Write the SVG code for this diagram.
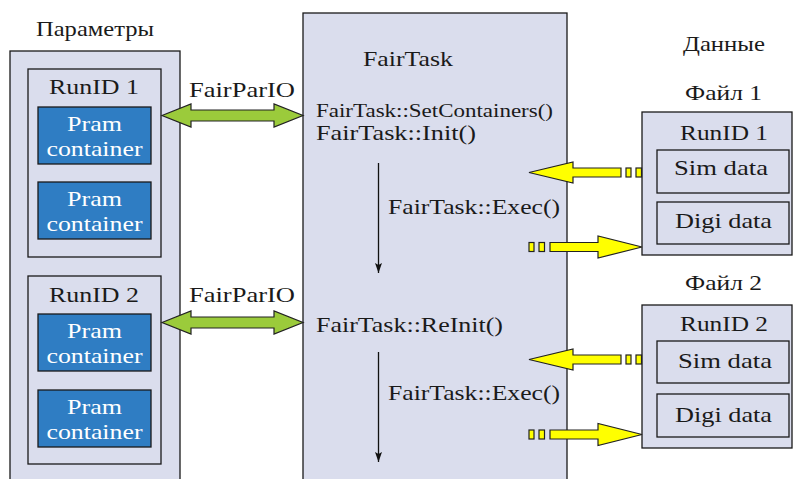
<svg xmlns="http://www.w3.org/2000/svg" width="793" height="479" viewBox="0 0 793 479" font-family="'Liberation Serif', 'Times New Roman', Times, 'DejaVu Serif', serif">
<style>
text{font-family:'Liberation Serif','Times New Roman',Times,'DejaVu Serif',serif;font-size:22px;fill:#1a1a1a}
.w{fill:#ffffff}
.box{fill:#dadded;stroke:#1a1a1a;stroke-width:1.3}
.pram{fill:#2f7dc3;stroke:#1a1a1a;stroke-width:1.3}
.green{fill:#9bcb3b;stroke:#222;stroke-width:1.2}
.yel{fill:#ffff00;stroke:#222;stroke-width:1.2}
.flow{stroke:#111;stroke-width:1.3;fill:none}
</style>
<defs>
<marker id="ah" viewBox="0 0 10 10" refX="10" refY="5" markerWidth="10" markerHeight="10" markerUnits="userSpaceOnUse" orient="auto">
<path d="M0,1.5 L10,5 L0,8.5 L2,5 Z" fill="#111"/>
</marker>
</defs>
<rect width="793" height="479" fill="#fff"/>

<g id="params">
<text x="95" y="36" text-anchor="middle" textLength="118" lengthAdjust="spacingAndGlyphs">Параметры</text>
<rect class="box" x="10" y="51" width="170" height="440"/>
</g>
<g id="runid1-params">
<rect class="box" x="28" y="69" width="133" height="188"/>
<text x="94" y="94" text-anchor="middle" textLength="90" lengthAdjust="spacingAndGlyphs">RunID 1</text>
</g>
<g id="pram1">
<rect class="pram" x="38" y="107" width="113" height="57"/>
<text class="w" x="94.5" y="131" text-anchor="middle" textLength="55" lengthAdjust="spacingAndGlyphs">Pram</text>
<text class="w" x="94.5" y="156" text-anchor="middle" textLength="96" lengthAdjust="spacingAndGlyphs">container</text>
</g>
<g id="pram2">
<rect class="pram" x="38" y="182" width="113" height="57"/>
<text class="w" x="94.5" y="206" text-anchor="middle" textLength="55" lengthAdjust="spacingAndGlyphs">Pram</text>
<text class="w" x="94.5" y="231" text-anchor="middle" textLength="96" lengthAdjust="spacingAndGlyphs">container</text>
</g>
<g id="runid2-params">
<rect class="box" x="28" y="276" width="133" height="188"/>
<text x="94" y="302" text-anchor="middle" textLength="90" lengthAdjust="spacingAndGlyphs">RunID 2</text>
</g>
<g id="pram3">
<rect class="pram" x="38" y="314" width="113" height="57"/>
<text class="w" x="94.5" y="338" text-anchor="middle" textLength="55" lengthAdjust="spacingAndGlyphs">Pram</text>
<text class="w" x="94.5" y="363" text-anchor="middle" textLength="96" lengthAdjust="spacingAndGlyphs">container</text>
</g>
<g id="pram4">
<rect class="pram" x="38" y="390" width="113" height="57"/>
<text class="w" x="94.5" y="414" text-anchor="middle" textLength="55" lengthAdjust="spacingAndGlyphs">Pram</text>
<text class="w" x="94.5" y="439" text-anchor="middle" textLength="96" lengthAdjust="spacingAndGlyphs">container</text>
</g>

<g id="fairtask">
<rect class="box" x="303" y="13" width="264" height="480"/>
<text x="408" y="66" text-anchor="middle" textLength="90" lengthAdjust="spacingAndGlyphs">FairTask</text>
<text x="316" y="117" textLength="237" lengthAdjust="spacingAndGlyphs" style="font-size:19px">FairTask::SetContainers()</text>
<text x="316" y="140" textLength="160" lengthAdjust="spacingAndGlyphs">FairTask::Init()</text>
<text x="388" y="214" textLength="172" lengthAdjust="spacingAndGlyphs">FairTask::Exec()</text>
<text x="316" y="332" textLength="187" lengthAdjust="spacingAndGlyphs">FairTask::ReInit()</text>
<text x="388" y="400" textLength="172" lengthAdjust="spacingAndGlyphs">FairTask::Exec()</text>
</g>

<g id="data">
<text x="724" y="51" text-anchor="middle" textLength="82" lengthAdjust="spacingAndGlyphs">Данные</text>
</g>
<g id="file1">
<text x="723.5" y="100" text-anchor="middle" textLength="77" lengthAdjust="spacingAndGlyphs">Файл 1</text>
<rect class="box" x="642" y="112" width="150" height="143"/>
<text x="724" y="140" text-anchor="middle" textLength="88" lengthAdjust="spacingAndGlyphs">RunID 1</text>
<rect class="box" x="657" y="150" width="132" height="43"/>
<text x="721" y="175" text-anchor="middle" textLength="94" lengthAdjust="spacingAndGlyphs">Sim data</text>
<rect class="box" x="657" y="202" width="132" height="42"/>
<text x="723.5" y="228" text-anchor="middle" textLength="97" lengthAdjust="spacingAndGlyphs">Digi data</text>
</g>
<g id="file2">
<text x="723.5" y="290" text-anchor="middle" textLength="77" lengthAdjust="spacingAndGlyphs">Файл 2</text>
<rect class="box" x="642" y="305" width="150" height="143"/>
<text x="724" y="331" text-anchor="middle" textLength="88" lengthAdjust="spacingAndGlyphs">RunID 2</text>
<rect class="box" x="657" y="341" width="132" height="42"/>
<text x="725" y="368" text-anchor="middle" textLength="94" lengthAdjust="spacingAndGlyphs">Sim data</text>
<rect class="box" x="657" y="394" width="132" height="43"/>
<text x="723.5" y="422" text-anchor="middle" textLength="97" lengthAdjust="spacingAndGlyphs">Digi data</text>
</g>

<g id="connectors">
<path class="green" d="M162,115.5 L191,104 L191,110 L274,110 L274,104 L303,115.5 L274,127 L274,121 L191,121 L191,127 Z"/>
<text x="242" y="97" text-anchor="middle" textLength="106" lengthAdjust="spacingAndGlyphs">FairParIO</text>
<path class="green" d="M162,322.5 L191,311 L191,317 L274,317 L274,311 L303,322.5 L274,334 L274,328 L191,328 L191,334 Z"/>
<text x="242" y="302" text-anchor="middle" textLength="106" lengthAdjust="spacingAndGlyphs">FairParIO</text>

<line class="flow" x1="378.5" y1="163" x2="378.5" y2="273" marker-end="url(#ah)"/>
<line class="flow" x1="378.5" y1="352" x2="378.5" y2="462" marker-end="url(#ah)"/>

<path class="yel" d="M529,172.5 L573,162 L573,168 L621,168 L621,177 L573,177 L573,183 Z"/>
<rect class="yel" x="626" y="168" width="5" height="9"/>
<rect class="yel" x="636" y="168" width="5.5" height="9"/>
<rect class="yel" x="529" y="242.5" width="5" height="9"/>
<rect class="yel" x="539" y="242.5" width="5.5" height="9"/>
<path class="yel" d="M550,242.5 L598,242.5 L598,236 L642,247 L598,258 L598,251.5 L550,251.5 Z"/>

<path class="yel" d="M529,359.5 L573,349 L573,355 L621,355 L621,364 L573,364 L573,370 Z"/>
<rect class="yel" x="626" y="355" width="5" height="9"/>
<rect class="yel" x="636" y="355" width="5.5" height="9"/>
<rect class="yel" x="529" y="430" width="5" height="9"/>
<rect class="yel" x="539" y="430" width="5.5" height="9"/>
<path class="yel" d="M550,430 L598,430 L598,423.5 L642,434.5 L598,445.5 L598,439 L550,439 Z"/>
</g>
</svg>
